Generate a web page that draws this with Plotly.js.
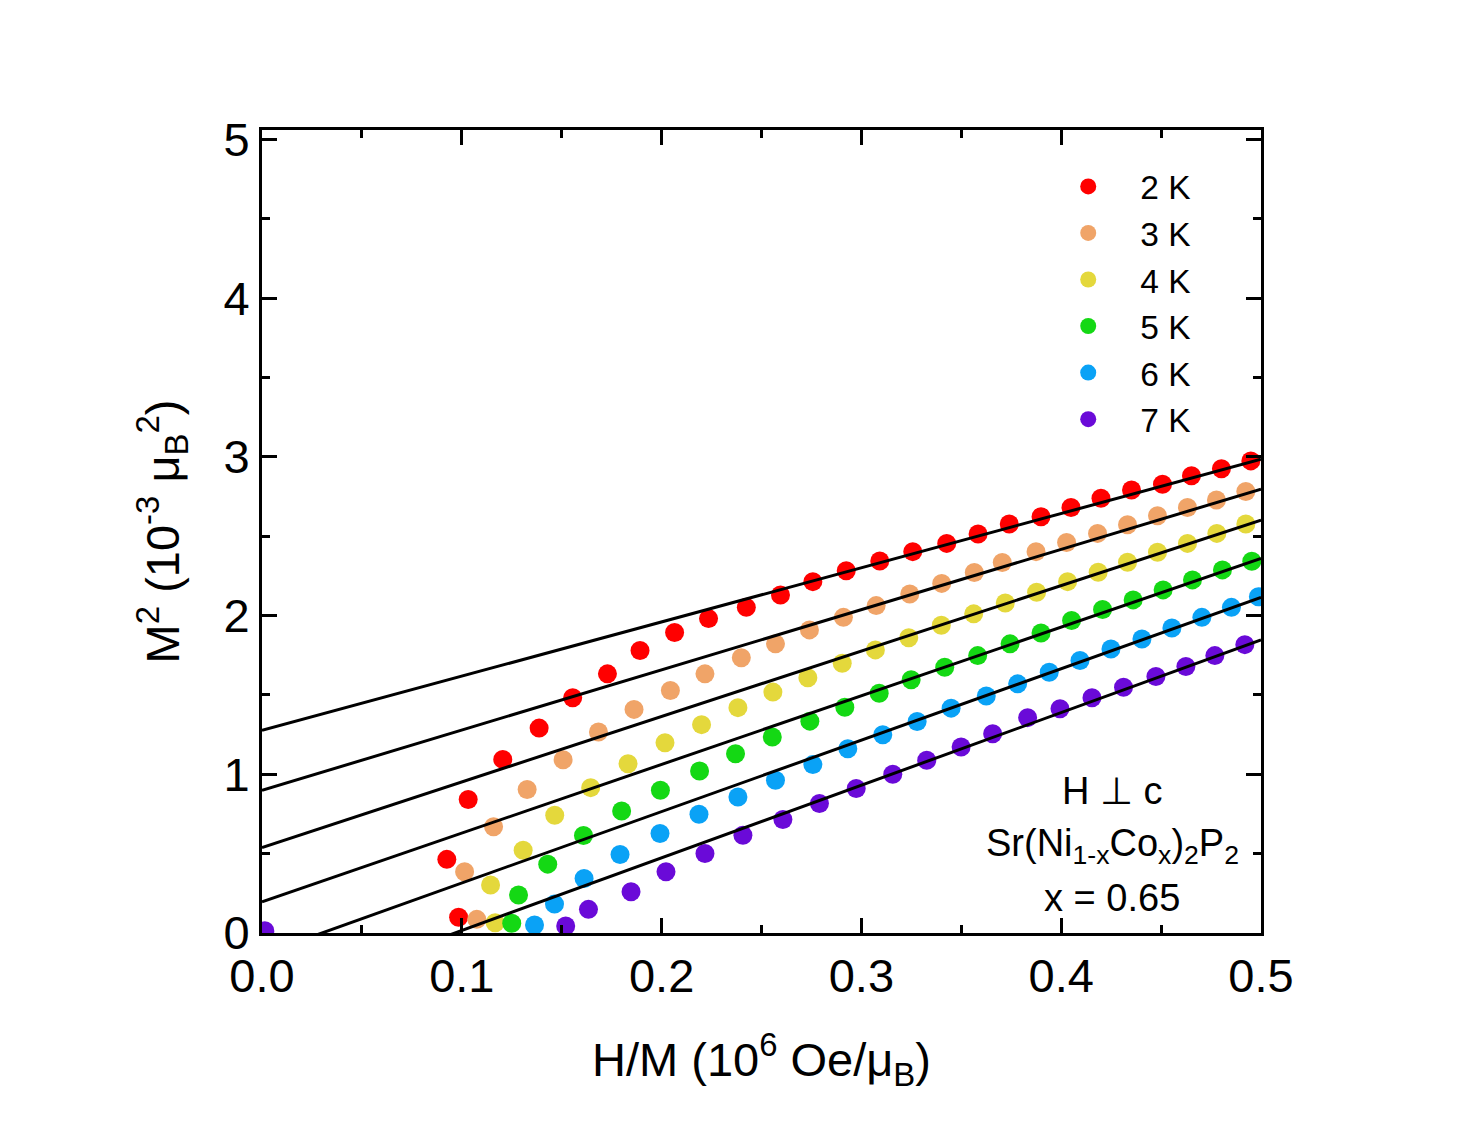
<!DOCTYPE html>
<html>
<head>
<meta charset="utf-8">
<script src="https://cdn.plot.ly/plotly-3.0.1.min.js"></script>
<style>
  html, body { margin: 0; padding: 0; background: #ffffff; }
  #chart { width: 1470px; height: 1125px; }
</style>
</head>
<body>
<div id="chart"></div>
<script>
  'use strict';

  const FONT = 'Arial, "Liberation Sans", sans-serif';

  const TEMPS = ['2 K', '3 K', '4 K', '5 K', '6 K', '7 K'];
  const COLORS = ['#ff0000', '#f0a468', '#e4d83c', '#14d814', '#0aa2f6', '#6a0ad8'];

  // H/M (10^6 Oe/muB) and M^2 (10^-3 muB^2)
  const hm2K = [0.0984, 0.0925, 0.1032, 0.1205, 0.1387, 0.1555, 0.1729, 0.1892, 0.2065, 0.2235, 0.2424, 0.2595, 0.2757, 0.2924, 0.3092, 0.3257, 0.3427, 0.3584, 0.374, 0.3899, 0.4049, 0.4199, 0.4352, 0.4507, 0.4652, 0.4802, 0.4949];
  const m2_2K = [0.099, 0.464, 0.841, 1.094, 1.291, 1.482, 1.633, 1.780, 1.893, 1.981, 2.052, 2.130, 2.214, 2.283, 2.344, 2.403, 2.455, 2.514, 2.577, 2.623, 2.681, 2.740, 2.791, 2.828, 2.881, 2.926, 2.975];

  const hm3K = [0.1075, 0.1014, 0.1159, 0.1327, 0.1507, 0.1684, 0.1862, 0.2044, 0.2217, 0.2399, 0.257, 0.274, 0.291, 0.3074, 0.3242, 0.3402, 0.3565, 0.3705, 0.3874, 0.4027, 0.4182, 0.4332, 0.4482, 0.4632, 0.4777, 0.4924];
  const m2_3K = [0.086, 0.386, 0.669, 0.904, 1.092, 1.266, 1.409, 1.528, 1.633, 1.734, 1.822, 1.910, 1.989, 2.063, 2.136, 2.203, 2.272, 2.335, 2.403, 2.461, 2.518, 2.572, 2.629, 2.681, 2.728, 2.782];

  const hm4K = [0.1167, 0.1144, 0.1307, 0.1465, 0.1645, 0.1832, 0.2017, 0.22, 0.2382, 0.2557, 0.2732, 0.2904, 0.307, 0.3237, 0.34, 0.3562, 0.372, 0.3877, 0.4032, 0.4185, 0.4332, 0.4482, 0.4632, 0.4779, 0.4924];
  const m2_4K = [0.065, 0.302, 0.522, 0.742, 0.916, 1.067, 1.199, 1.313, 1.420, 1.518, 1.608, 1.700, 1.784, 1.860, 1.939, 2.011, 2.080, 2.147, 2.214, 2.273, 2.336, 2.399, 2.455, 2.518, 2.577];

  const hm5K = [0.125, 0.1284, 0.143, 0.1609, 0.18, 0.1994, 0.219, 0.237, 0.2554, 0.2742, 0.2917, 0.3089, 0.3249, 0.3417, 0.3582, 0.3744, 0.3899, 0.4052, 0.4207, 0.436, 0.451, 0.4657, 0.4807, 0.4954];
  const m2_5K = [0.061, 0.239, 0.434, 0.614, 0.769, 0.899, 1.021, 1.130, 1.235, 1.335, 1.423, 1.511, 1.596, 1.675, 1.748, 1.822, 1.891, 1.969, 2.038, 2.099, 2.162, 2.225, 2.288, 2.342];

  const hm6K = [0.1364, 0.1464, 0.1612, 0.1792, 0.1992, 0.2187, 0.2382, 0.257, 0.2757, 0.2932, 0.3107, 0.3279, 0.3449, 0.3625, 0.3782, 0.394, 0.4094, 0.4249, 0.4404, 0.4554, 0.4704, 0.4852, 0.4987];
  const m2_6K = [0.050, 0.182, 0.344, 0.495, 0.627, 0.748, 0.857, 0.962, 1.061, 1.161, 1.249, 1.333, 1.417, 1.494, 1.570, 1.643, 1.717, 1.790, 1.853, 1.922, 1.989, 2.052, 2.119];

  const hm7K = [0.0014, 0.152, 0.1634, 0.1847, 0.2022, 0.2217, 0.2407, 0.2607, 0.279, 0.2974, 0.3157, 0.3327, 0.3499, 0.3657, 0.3832, 0.3994, 0.4154, 0.4312, 0.4474, 0.4624, 0.4769, 0.4919];
  const m2_7K = [0.014, 0.044, 0.149, 0.260, 0.386, 0.501, 0.616, 0.715, 0.816, 0.910, 1.000, 1.088, 1.172, 1.256, 1.357, 1.413, 1.482, 1.549, 1.616, 1.679, 1.748, 1.817];

  // linear fits, value at H/M = 0 and at H/M = 0.5
  const fitX = [0, 0.5];
  const fit2K = [1.277, 2.985];
  const fit3K = [0.899, 2.797];
  const fit4K = [0.539, 2.602];
  const fit5K = [0.197, 2.360];
  const fit6K = [-0.135, 2.115];
  const fit7K = [-0.442, 1.847];

  const XS = [hm2K, hm3K, hm4K, hm5K, hm6K, hm7K];
  const YS = [m2_2K, m2_3K, m2_4K, m2_5K, m2_6K, m2_7K];
  const FITS = [fit2K, fit3K, fit4K, fit5K, fit6K, fit7K];

  const traces = [];

  TEMPS.forEach((name, i) => {
    traces.push({
      x: XS[i],
      y: YS[i],
      name: name,
      type: 'scatter',
      mode: 'markers',
      marker: { color: COLORS[i], size: 19, line: { width: 0 } },
      cliponaxis: true
    });
  });

  // fit lines go on top of the markers
  FITS.forEach((fy) => {
    traces.push({
      x: fitX,
      y: fy,
      type: 'scatter',
      mode: 'lines',
      line: { color: '#000000', width: 3 },
      showlegend: false,
      hoverinfo: 'skip'
    });
  });

  function axisBase() {
    return {
      showline: true,
      linecolor: '#000000',
      linewidth: 3,
      mirror: 'allticks',
      ticks: 'inside',
      ticklen: 15,
      tickwidth: 3,
      tickcolor: '#000000',
      showgrid: false,
      zeroline: false,
      automargin: false,
      tickfont: { family: FONT, size: 47, color: '#000000' }
    };
  }

  const xaxis = Object.assign(axisBase(), {
    range: [0, 0.5],
    dtick: 0.1,
    tick0: 0,
    tickformat: '.1f',
    minor: { dtick: 0.05, ticks: 'inside', ticklen: 8, tickwidth: 3, tickcolor: '#000000' },
    title: {
      text: 'H/M (10<sup>6</sup> Oe/μ<sub>B</sub>)',
      font: { family: FONT, size: 47, color: '#000000' },
      standoff: 42
    }
  });

  const yaxis = Object.assign(axisBase(), {
    range: [0, 5.06],
    dtick: 1,
    tick0: 0,
    minor: { dtick: 0.5, ticks: 'inside', ticklen: 8, tickwidth: 3, tickcolor: '#000000' },
    title: {
      text: 'M<sup>2</sup> (10<sup>-3</sup> μ<sub>B</sub><sup>2</sup>)',
      font: { family: FONT, size: 47, color: '#000000' },
      standoff: 30
    }
  });

  const noteFont = { family: FONT, size: 38, color: '#000000' };
  const notes = [
    { text: 'H ⊥ c', y: 0.177 },
    { text: 'Sr(Ni<sub>1-x</sub>Co<sub>x</sub>)<sub>2</sub>P<sub>2</sub>', y: 0.108 },
    { text: 'x = 0.65', y: 0.044 }
  ].map(n => ({
    text: n.text,
    xref: 'paper',
    yref: 'paper',
    x: 0.851,
    y: n.y,
    xanchor: 'center',
    yanchor: 'middle',
    showarrow: false,
    font: noteFont
  }));

  const layout = {
    width: 1470,
    height: 1125,
    paper_bgcolor: '#ffffff',
    plot_bgcolor: '#ffffff',
    margin: { l: 262, r: 209, t: 130, b: 192 },
    font: { family: FONT, color: '#000000' },
    xaxis: xaxis,
    yaxis: yaxis,
    showlegend: true,
    legend: {
      x: 0.775,
      y: 0.965,
      xanchor: 'left',
      yanchor: 'top',
      bgcolor: 'rgba(0,0,0,0)',
      borderwidth: 0,
      itemwidth: 94,
      font: { family: FONT, size: 33.5, color: '#000000' }
    },
    annotations: notes
  };

  Plotly.newPlot('chart', traces, layout, { displayModeBar: false, staticPlot: true });
</script>
</body>
</html>
